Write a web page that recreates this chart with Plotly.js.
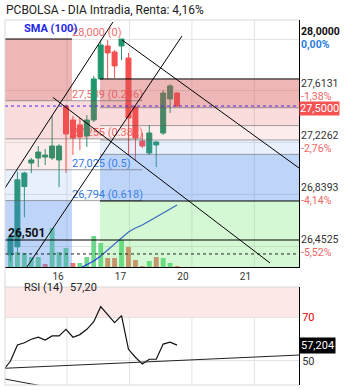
<!DOCTYPE html>
<html><head><meta charset="utf-8">
<script src="https://cdn.plot.ly/plotly-3.0.1.min.js"></script>
<style>html,body{margin:0;padding:0;background:#fff}#chart{width:353px;height:390px}</style>
</head><body><div id="chart"></div>
<script>
// ---- data (hourly candles, index 0..24) ----
const candleIdx = [0,1,2,3,4,5,6,7,8,9,10,11,12,13,14,15,16,17,18,19,20,21,22,23,24];
const openP  = [26.39,26.45,26.90,27.075,27.113,27.12,27.113,27.098,27.50,27.396,27.359,27.277,27.396,27.702,27.948,27.903,27.948,27.858,27.493,27.239,27.15,27.21,27.299,27.553,27.597];
const highP  = [26.54,27.01,27.01,27.113,27.202,27.18,27.426,27.215,27.51,27.426,27.411,27.433,27.724,27.99,27.993,27.918,28.00,27.896,27.508,27.299,27.359,27.239,27.62,27.664,27.605];
const lowP   = [26.34,26.41,26.67,27.00,27.045,27.06,27.098,26.896,27.001,27.135,27.172,27.195,27.381,27.694,27.702,27.709,27.843,27.135,27.098,27.187,27.135,27.045,27.284,27.448,27.493];
const closeP = [26.52,26.95,27.00,27.098,27.157,27.135,27.202,27.202,27.292,27.262,27.269,27.396,27.702,27.955,27.896,27.799,28.00,27.411,27.262,27.202,27.299,27.232,27.597,27.65,27.50];
const volumeK = [12,15,14,10,10,3,39,15,19,4,4,10,31,24,9,9,27,20,7,1,6,10,9,4,1];

const smaIdx = [10,11,12,13,14,15,16,17,18,19,20,21,22,23,24];
const sma100 = [26.29,26.315,26.345,26.382,26.427,26.471,26.516,26.561,26.591,26.613,26.643,26.673,26.703,26.732,26.762];

const rsiIdx = [-1,0,1,2,3,4,5,6,7,8,9,10,11,12,13,14,15,16,17,18,19,20,21,22,23,24];
const rsi14  = [45.9,50,57.3,58.3,59.9,60.8,59.5,61.4,61.4,64.4,60.8,62.0,64.4,67.9,74.7,70.9,67.4,70.6,55.3,51.7,48.6,50.8,50.8,57.7,58.6,57.2];

const dayTickIdx = [6.85,15.85,24.85,33.85];
const dayLabels  = ['16','17','20','21'];
const gridIdx    = [8.14,17.14,26.14,35.14];

const priceTicks = [28.0,27.6131,27.2262,26.8393,26.4525];
const refPrice = 28.0;
const lastPrice = 27.50;
const rsiLastExact = 57.204;
const supportLevel = 26.501;
const lowLevel = 26.397;

const fibLevels = [0,0.236,0.382,0.5,0.618,1];
const leftFib  = {hi:28.0, lo:26.05, x0:-0.79, x1:8.86};
const rightFib = {hi:27.702, lo:26.792, x0:12.9, x1:41.57};

const trendX0 = [1.7,-0.79,16.07,6.12];
const trendP0 = [26.248,26.889,27.993,27.564];
const trendX1 = [24.71,14.77,41.57,37.39];
const trendP1 = [28.022,28.127,27.038,26.330];

const rsiTrendX0 = [-0.79,-0.79];
const rsiTrendY0 = [46.7,41.8];
const rsiTrendX1 = [41.57,6];
const rsiTrendY1 = [52.7,37.8];

// ---- helpers ----
const xMin=-0.79, xMax=41.57, yMin=26.2998, yMax=28.1417, rsiMin=39.09, rsiMax=83.64;
const fmt = (v,d)=>v.toFixed(d).replace('.',',');
const truncFmt = (v,d)=>{const m=Math.pow(10,d); return (Math.trunc(v*m+(v<0?-1e-9:1e-9))/m).toFixed(d).replace('.',',');};
const fibP = (f,l)=>f.hi - l*(f.hi-f.lo);

const GREEN='rgb(34,150,108)', RED='rgb(245,80,80)';
const volColors = closeP.map((c,i)=> (i===0 || c>=closeP[i-1]) ? 'rgb(110,215,140)' : 'rgb(235,120,110)');

const traces = [
  {type:'bar', x:candleIdx, y:volumeK, yaxis:'y', xaxis:'x', width:0.7,
   marker:{color:volColors, line:{width:0}}, hoverinfo:'skip'},
  {type:'scatter', mode:'text', xaxis:'x', yaxis:'y3',
   x:fibLevels.slice(0,5).map(()=>leftFib.x1),
   y:fibLevels.slice(0,5).map(l=>fibP(leftFib,l)),
   text:fibLevels.slice(0,5).map(l=>truncFmt(fibP(leftFib,l),3)+' ('+l+')'),
   textposition:'top right',
   textfont:{size:11,family:'Roboto',color:['rgb(240,110,110)','rgb(240,110,110)','rgb(240,110,110)','rgb(50,120,230)','rgb(50,120,230)']},
   hoverinfo:'skip', cliponaxis:false},
  {type:'scatter', mode:'lines', xaxis:'x', yaxis:'y3', x:smaIdx, y:sma100,
   line:{color:'rgb(40,60,230)', width:1.2}, hoverinfo:'skip'},
  {type:'candlestick', xaxis:'x', yaxis:'y4', x:candleIdx, open:openP, high:highP, low:lowP, close:closeP,
   increasing:{line:{color:GREEN,width:1}, fillcolor:GREEN},
   decreasing:{line:{color:RED,width:1}, fillcolor:RED},
   whiskerwidth:0, hoverinfo:'skip'},
  {type:'scatter', mode:'lines', xaxis:'x', yaxis:'y2', x:rsiIdx, y:rsi14,
   line:{color:'#111', width:1.2}, hoverinfo:'skip'}
];

const shapes = [];
gridIdx.forEach(g=>{
  shapes.push({type:'line', layer:'below', xref:'x', yref:'y domain', x0:g, x1:g, y0:0, y1:1, line:{color:'#e3e3e3', width:1}});
  shapes.push({type:'line', layer:'below', xref:'x', yref:'y2 domain', x0:g, x1:g, y0:0, y1:1, line:{color:'#e3e3e3', width:1}});
});
shapes.push({type:'rect', layer:'below', xref:'x', yref:'y2', x0:xMin, x1:xMax, y0:70, y1:100, fillcolor:'rgb(253,232,232)', line:{width:0}});

const bandCols = ['rgba(213,84,84,0.42)','rgba(230,80,80,0.2)','rgba(230,80,80,0.11)','rgba(100,150,240,0.15)','rgba(80,140,240,0.37)'];
function rect(x0,x1,y0,y1,c){shapes.push({type:'rect', layer:'above', xref:'x', yref:'y3', x0,x1,y0,y1, fillcolor:c, line:{width:0}});}
function hl(y,x0,x1,c,dash,w){shapes.push({type:'line', layer:'above', xref:'x', yref:'y3', x0,x1,y0:y,y1:y, line:{color:c,width:w||1,dash:dash||'solid'}});}
for(let k=0;k<5;k++){
  rect(leftFib.x0, leftFib.x1, fibP(leftFib,fibLevels[k]), fibP(leftFib,fibLevels[k+1]), bandCols[k]);
  rect(rightFib.x0, rightFib.x1, fibP(rightFib,fibLevels[k]), fibP(rightFib,fibLevels[k+1]), bandCols[k]);
}
rect(rightFib.x0, rightFib.x1, rightFib.lo, yMin-0.5, 'rgba(100,230,100,0.28)');
rect(leftFib.x1, rightFib.x0, fibP(leftFib,0.236), fibP(leftFib,0.382), bandCols[1]);
for(let k=1;k<5;k++){
  hl(fibP(leftFib,fibLevels[k]), xMin, 19, 'rgba(90,90,90,0.55)');
  hl(fibP(rightFib,fibLevels[k]), rightFib.x0, xMax, 'rgba(90,90,90,0.55)');
}
hl(leftFib.hi, leftFib.x0, leftFib.x1, '#000');
hl(rightFib.hi, rightFib.x0, xMax, '#000');
hl(rightFib.lo, rightFib.x0, xMax, '#000');
hl(supportLevel, xMin, xMax, '#000');
hl(lowLevel, xMin, xMax, '#222', 'dot');
hl(lastPrice, xMin, xMax, 'rgb(80,40,230)', '3px,3px');
trendX0.forEach((x,i)=>shapes.push({type:'line', layer:'above', xref:'x', yref:'y3', x0:x, y0:trendP0[i], x1:trendX1[i], y1:trendP1[i], line:{color:'#000',width:1}}));
rsiTrendX0.forEach((x,i)=>shapes.push({type:'line', layer:'above', xref:'x', yref:'y2', x0:x, y0:rsiTrendY0[i], x1:rsiTrendX1[i], y1:rsiTrendY1[i], line:{color:'#222',width:1}}));
shapes.push({type:'line', xref:'paper', yref:'paper', x0:0, x1:0, y0:0, y1:1, line:{color:'#d8d8d8', width:1}});
shapes.push({type:'line', xref:'paper', yref:'paper', x0:0, x1:1, y0:1, y1:1, line:{color:'#d8d8d8', width:1}});
shapes.push({type:'line', xref:'paper', yref:'y2 domain', x0:0, x1:1, y0:1, y1:1, line:{color:'#d8d8d8', width:1}});
shapes.push({type:'line', xref:'paper', yref:'y2 domain', x0:0, x1:1, y0:0, y1:0, line:{color:'#d8d8d8', width:1}});

// right-axis labels (value above the level, % change below it)
const annotations = [];
priceTicks.forEach((p,i)=>{
  const pct = truncFmt((p/refPrice-1)*100,2)+'%';
  const first = i===0;
  annotations.push({xref:'paper', x:1, xanchor:'left', xshift:1, yref:'y3', y:p, yanchor:'bottom', yshift:0,
    text: first ? '<b>'+fmt(p,4)+'</b>' : fmt(p,4), showarrow:false, borderpad:0,
    font:{size:10.5, color: first ? '#111' : '#333'}});
  annotations.push({xref:'paper', x:1, xanchor:'left', xshift:1, yref:'y3', y:p, yanchor:'top', yshift:2,
    text: first ? '<b>'+pct+'</b>' : pct, showarrow:false, borderpad:0,
    font:{size:10.5, color: first ? '#2a7de1' : '#f06464'}});
});
annotations.push(
  {xref:'paper', x:1, xanchor:'left', yref:'y3', y:lastPrice, yshift:-2, text:fmt(lastPrice,4), showarrow:false,
   bgcolor:'rgb(245,82,82)', font:{color:'#fff', size:11}, borderpad:0},
  {xref:'paper', x:1, xanchor:'left', yref:'y2', y:rsiLastExact, text:fmt(rsiLastExact,3), showarrow:false,
   bgcolor:'#000', font:{color:'#fff', size:11}, borderpad:1},
  {xref:'x', x:-0.5, xanchor:'left', yref:'y3', y:supportLevel, yanchor:'bottom', yshift:-1, text:'<b>'+truncFmt(supportLevel,3)+'</b>', showarrow:false,
   font:{color:'#111', size:12}, borderpad:0},
  {xref:'paper', x:17/294, xanchor:'left', yref:'y3', y:28.075, text:'<b>SMA (100)</b>', showarrow:false,
   font:{color:'rgb(30,40,230)', size:11}},
  {xref:'paper', x:17/294, xanchor:'left', yref:'paper', y:(385-296)/365, text:'RSI (14)', showarrow:false,
   font:{color:'#222', size:11}},
  {xref:'paper', x:63/294, xanchor:'left', yref:'paper', y:(385-296)/365, text:fmt(rsi14[rsi14.length-1],2), showarrow:false,
   font:{color:'#222', size:11}}
);

const layout = {
  width:353, height:390,
  margin:{l:5, r:54, t:20, b:5},
  paper_bgcolor:'#fff', plot_bgcolor:'#fff',
  font:{family:'Roboto', size:11, color:'#333'},
  showlegend:false,
  boxgap:0.28, boxgroupgap:0,
  title:{text:'PCBOLSA - DIA Intradia, Renta: 4,16%', xref:'container', yref:'container', x:6/353, xanchor:'left', y:1-10/390, yanchor:'middle', font:{size:12, color:'#222', family:'Roboto'}},
  xaxis:{range:[xMin,xMax], anchor:'y', showgrid:false, zeroline:false, showline:true, linecolor:'#000', linewidth:1,
         tickvals:dayTickIdx, ticktext:dayLabels, ticks:'', tickfont:{size:10, color:'#333'}, rangeslider:{visible:false}, fixedrange:true},
  yaxis:{domain:[0.3233,1], range:[0,247], visible:false, fixedrange:true},
  yaxis3:{overlaying:'y', anchor:'x', side:'right', range:[yMin,yMax], tickvals:priceTicks, showticklabels:false, ticks:'',
          showgrid:true, gridcolor:'#e3e3e3', zeroline:false, showline:true, linecolor:'#000', linewidth:1, fixedrange:true},
  yaxis4:{overlaying:'y', anchor:'x', range:[yMin,yMax], visible:false, fixedrange:true},
  yaxis2:{domain:[0,0.2685], anchor:'x', side:'right', range:[rsiMin,rsiMax], tickvals:[70,50],
          ticktext:['<span style="color:#e00">70</span>','50'], ticks:'', showgrid:true, gridcolor:'#e3e3e3', zeroline:false,
          showline:true, linecolor:'#000', linewidth:1, tickfont:{size:11, color:'#333'}, fixedrange:true},
  shapes:shapes,
  annotations:annotations
};
Plotly.newPlot('chart', traces, layout, {staticPlot:true, displayModeBar:false});
</script></body></html>
